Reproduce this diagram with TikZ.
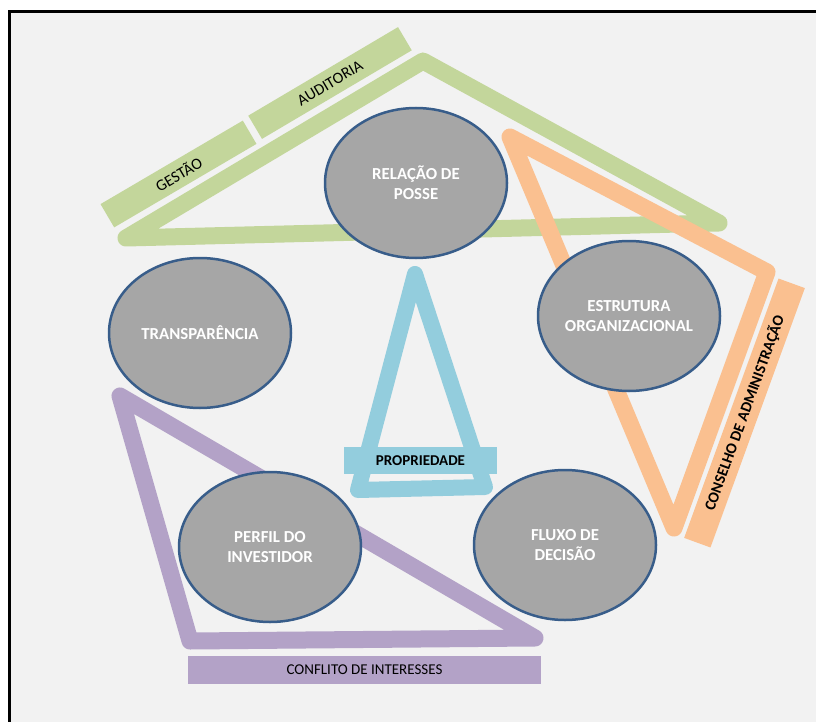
\documentclass[tikz,border=0pt]{standalone}
\usepackage{fontspec}
\setmainfont{Carlito}
\usetikzlibrary{shapes.geometric}
\definecolor{panelgray}{HTML}{F2F2F2}
\definecolor{govgreen}{HTML}{C3D69B}
\definecolor{govorange}{HTML}{FAC090}
\definecolor{govpurple}{HTML}{B3A2C7}
\definecolor{govblue}{HTML}{93CDDD}
\definecolor{discgray}{HTML}{A6A6A6}
\definecolor{rimblue}{HTML}{385D8A}

\begin{document}
\begin{tikzpicture}[x=1pt,y=-1pt,
  tri/.style={draw=#1,line width=17pt,line join=round},
  band/.style={fill=#1,minimum height=27pt,inner sep=0pt,font=\fontsize{15}{18}\selectfont},
  topic/.style={ellipse,draw=rimblue,line width=2.5pt,fill=discgray,minimum width=182pt,minimum height=150pt,
    inner sep=0pt,align=center,text=white,font=\fontsize{16.8}{20}\selectfont\bfseries}]
\clip (0,0) rectangle (816,722);
\fill[white] (0,0) rectangle (816,722);
\draw[line width=3.5pt,fill=panelgray] (9.5,11.7) rectangle (830,740);

% triangle corners
\coordinate (gTop) at (423,61);
\coordinate (gLeft) at (126,238);
\coordinate (gRight) at (719,223);
\coordinate (oTop) at (510,137);
\coordinate (oRight) at (767,272);
\coordinate (oBottom) at (674,528);
\coordinate (pTop) at (120,396);
\coordinate (pLeft) at (190,641);
\coordinate (pRight) at (535,638);
\coordinate (bTop) at (415,274);
\coordinate (bLeft) at (358,490);
\coordinate (bRight) at (485,487);

% green: gestao / auditoria
\draw[tri=govgreen] (gTop) -- (gLeft) -- (gRight) -- cycle;
\node[band=govgreen,minimum width=165pt,rotate=30.4,font=\fontsize{16}{19}\selectfont] (gestao) at (178.5,174) {GESTÃO};
\node[band=govgreen,minimum width=174pt,rotate=30.6,font=\fontsize{16}{19}\selectfont] (auditoria) at (330,83) {AUDITORIA};

% orange: conselho
\draw[tri=govorange] (oTop) -- (oRight) -- (oBottom) -- cycle;
\node[band=govorange,minimum width=276pt,minimum height=28pt,rotate=70,font=\fontsize{15.5}{18}\selectfont\bfseries] (conselho) at (744.5,413) {CONSELHO DE ADMINISTRAÇÃO};

% purple: conflito
\draw[tri=govpurple] (pTop) -- (pLeft) -- (pRight) -- cycle;
\node[band=govpurple,minimum width=353pt,minimum height=28pt] (conflito) at (364.5,670) {CONFLITO DE INTERESSES};

% blue: propriedade
\draw[tri=govblue,line width=16pt] (bTop) -- (bLeft) -- (bRight) -- cycle;
\node[band=govblue,minimum width=153pt,font=\fontsize{15}{18}\selectfont\bfseries] (propriedade) at (420.5,460.5) {PROPRIEDADE};

% topics
\node[topic] (posse) at (416,183) {RELAÇÃO DE\\POSSE};
\node[topic] (estrutura) at (629,316) {ESTRUTURA\\ORGANIZACIONAL};
\node[topic] (transparencia) at (200,333) {TRANSPARÊNCIA};
\node[topic] (perfil) at (270,547) {PERFIL DO\\INVESTIDOR};
\node[topic] (fluxo) at (565,545) {FLUXO DE\\DECISÃO};
\end{tikzpicture}
\end{document}
